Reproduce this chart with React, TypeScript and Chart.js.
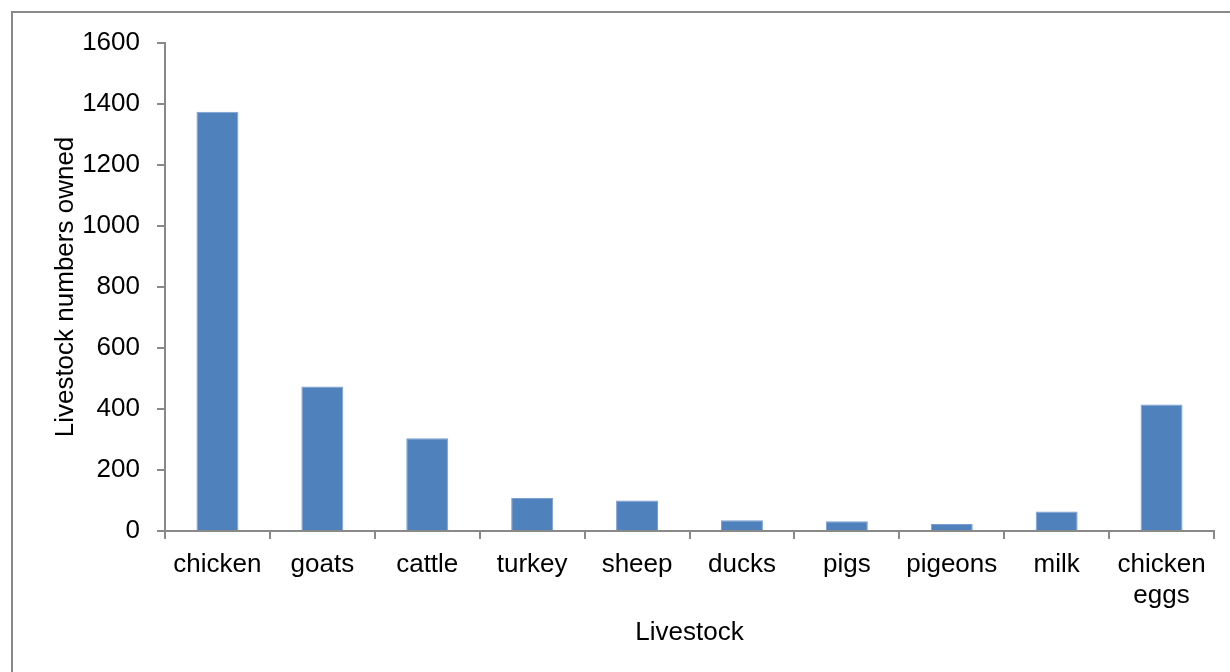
import React, { useEffect, useRef } from "react";
import { Chart, registerables } from "chart.js";

Chart.register(...registerables);

const categories: (string | string[])[] = [
  "chicken",
  "goats",
  "cattle",
  "turkey",
  "sheep",
  "ducks",
  "pigs",
  "pigeons",
  "milk",
  ["chicken", "eggs"],
];
const livestockCounts = [1375, 474, 304, 108, 100, 35, 32, 23, 64, 415];
const yTicks = [0, 200, 400, 600, 800, 1000, 1200, 1400, 1600];
const yTitle = "Livestock numbers owned";
const xTitle = "Livestock";

const FONT = "'Liberation Sans', Arial, sans-serif";
const AXIS_GRAY = "#898989";

const framePlugin = {
  id: "frame",
  beforeDraw(chart: any) {
    const ctx = chart.ctx;
    ctx.save();
    ctx.strokeStyle = AXIS_GRAY;
    ctx.lineWidth = 2;
    ctx.beginPath();
    ctx.moveTo(12, chart.height + 5);
    ctx.lineTo(12, 12);
    ctx.lineTo(chart.width + 5, 12);
    ctx.stroke();
    ctx.restore();
  },
};

export default function App() {
  const ref = useRef<HTMLCanvasElement | null>(null);
  useEffect(() => {
    if (!ref.current) return;
    const chart = new Chart(ref.current, {
      type: "bar",
      data: {
        labels: categories,
        datasets: [
          {
            data: livestockCounts,
            backgroundColor: "#4F81BD",
            borderColor: "#7A9FD0",
            borderWidth: { top: 1, left: 1, right: 1, bottom: 0 } as any,
            barPercentage: 0.4,
            categoryPercentage: 1,
          },
        ],
      },
      options: {
        animation: false,
        responsive: false,
        devicePixelRatio: 1,
        layout: { padding: { top: 43, right: 16, left: 0, bottom: 0 } },
        plugins: { legend: { display: false }, tooltip: { enabled: false } },
        scales: {
          x: {
            offset: true,
            grid: {
              offset: true,
              drawOnChartArea: false,
              drawTicks: true,
              tickLength: 8,
              color: AXIS_GRAY,
              lineWidth: 2,
            },
            border: { display: true, color: AXIS_GRAY, width: 2 },
            ticks: {
              color: "#000",
              font: { family: FONT, size: 26 },
              padding: 10,
              maxRotation: 0,
              autoSkip: false,
            },
            title: {
              display: true,
              text: xTitle,
              color: "#000",
              font: { family: FONT, size: 26 },
              padding: { top: 10, bottom: 24 },
            },
            afterFit(scale: any) {
              scale.height = 141;
            },
          },
          y: {
            min: 0,
            max: 1600,
            afterBuildTicks(scale: any) {
              scale.ticks = yTicks.map((v) => ({ value: v }));
            },
            grid: {
              drawOnChartArea: false,
              drawTicks: true,
              tickLength: 8,
              color: AXIS_GRAY,
              lineWidth: 2,
            },
            border: { display: true, color: AXIS_GRAY, width: 2 },
            ticks: {
              color: "#000",
              font: { family: FONT, size: 26 },
              padding: 17,
              callback: (v: any) => String(v),
            },
            title: {
              display: true,
              text: yTitle,
              color: "#000",
              font: { family: FONT, size: 26 },
              padding: { top: 50, bottom: 0 },
            },
            afterFit(scale: any) {
              scale.width = 165;
            },
          },
        },
      },
      plugins: [framePlugin],
    });
    return () => chart.destroy();
  }, []);
  return (
    <div style={{ position: "absolute", left: 0, top: 0, width: 1230, height: 672, background: "#fff" }}>
      <canvas ref={ref} width={1230} height={672} style={{ display: "block" }} />
    </div>
  );
}
